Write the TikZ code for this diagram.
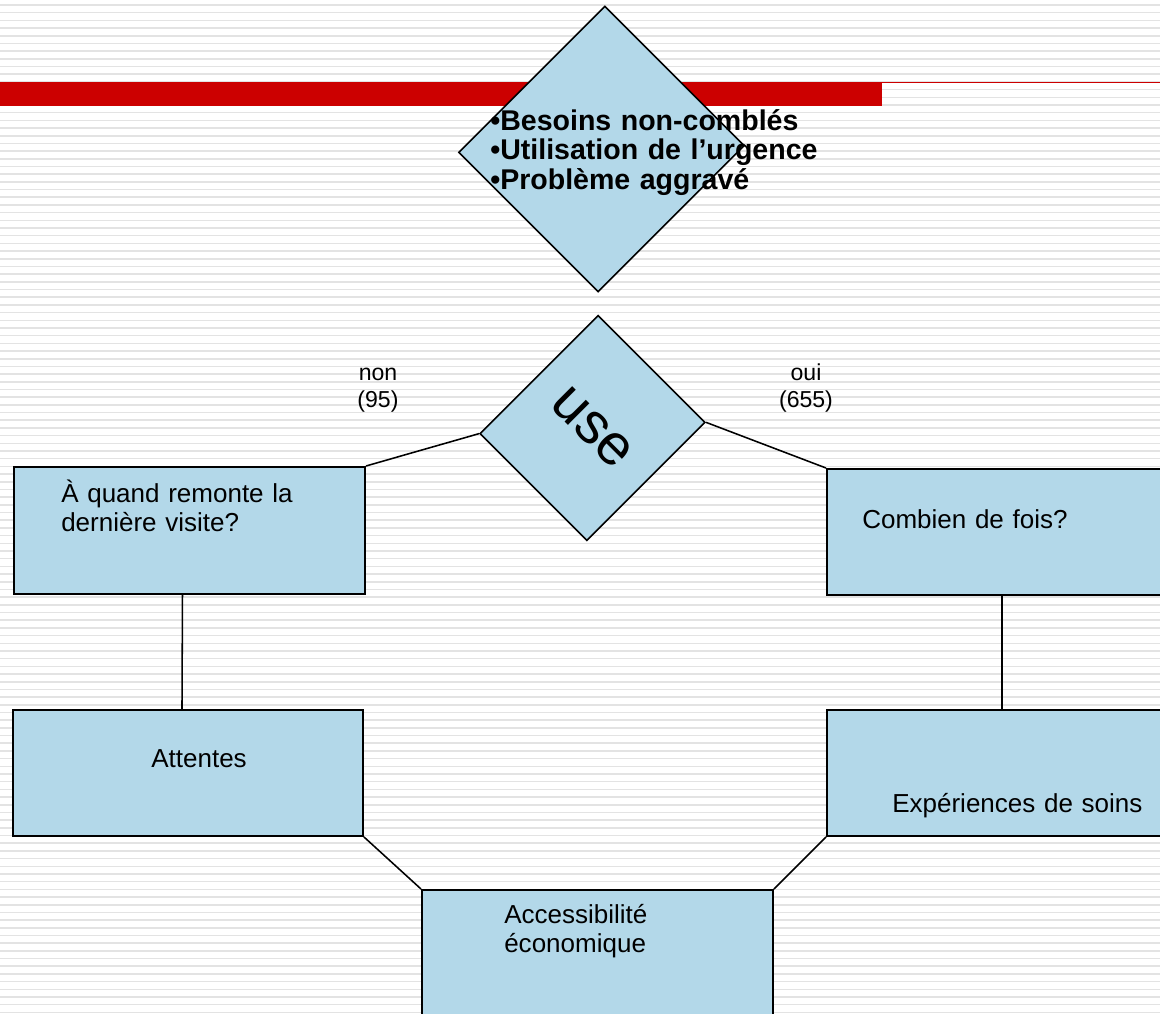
\documentclass[tikz,border=0pt]{standalone}
\usepackage{fontspec}
\setmainfont{Liberation Sans}
\usetikzlibrary{calc}
\definecolor{boxblue}{RGB}{179,216,233}
\definecolor{barred}{RGB}{204,0,0}
\def\px{0.025cm}

\begin{document}
\begin{tikzpicture}[x=0.025cm,y=-0.025cm,stripe/.style={gray!22, line width=1.1pt},box/.style={draw, fill=boxblue, line width=1.4pt, inner sep=0pt, anchor=north west},turned/.style={draw, fill=boxblue, line width=1.1pt, inner sep=0pt, rotate=-45},link/.style={line width=1.1pt},boxtext/.style={font=\fontsize{18.5}{21.3}\selectfont, anchor=base west, inner sep=0pt, text width=9cm, align=left},answer/.style={font=\fontsize{16.4}{19.2}\selectfont, anchor=base, inner sep=0pt, text width=3cm, align=center}]
\useasboundingbox (0,0) rectangle (1160,1014);
\clip (0,0) rectangle (1160,1014);
% striped slide background and title bar
\foreach \i in {0,...,131} \draw[stripe] (0,5+\i*7.69) -- (1160,5+\i*7.69);
\fill[barred] (0,82) rectangle (882,106);
\draw[barred, line width=1pt] (882,82.5) -- (1160,82.5);
% outcomes
\node[turned, minimum width=197*\px, minimum height=206.5*\px] (outcome) at (601.5,149) {};
\node[boxtext, font=\fontsize{20.3}{21.3}\selectfont\bfseries] (outcome-txt) at (490,130) {•Besoins non-comblés\\•Utilisation de l’urgence\\•Problème aggravé};
% use of services
\node[turned, minimum width=151*\px, minimum height=167*\px, font=\fontsize{41}{48}\selectfont] (use) at (592.5,428) {use};
\node[answer] (non) at (378,380) {non\\(95)};
\node[answer] (oui) at (806,380) {oui\\(655)};
% boxes
\node[box, minimum width=351*\px, minimum height=127*\px] (visite) at (13,466) {};
\node[box, minimum width=350*\px, minimum height=126*\px] (combien) at (826,468) {};
\node[box, minimum width=350*\px, minimum height=126*\px] (attentes) at (12,709) {};
\node[box, minimum width=350*\px, minimum height=126*\px] (soins) at (826,709) {};
\node[box, minimum width=351*\px, minimum height=140*\px] (acces) at (421,889) {};
\node[boxtext] (visite-txt) at (61,502) {À quand remonte la\\dernière visite?};
\node[boxtext] (combien-txt) at (862,528) {Combien de fois?};
\node[boxtext] (attentes-txt) at (151,767) {Attentes};
\node[boxtext] (soins-txt) at (892,812) {Expériences de soins};
\node[boxtext] (acces-txt) at (504,923) {Accessibilité\\économique};
% connectors
\draw[link] (use.south west) -- (visite.north east);
\draw[link] (use.north east) -- (combien.north west);
\draw[link] ($(visite.south)+(-7,0)$) -- ($(attentes.north)+(-6,0)$);
\draw[link] (combien.south) -- (soins.north);
\draw[link] (attentes.south east) -- (acces.north west);
\draw[link] (soins.south west) -- (acces.north east);
\end{tikzpicture}
\end{document}
